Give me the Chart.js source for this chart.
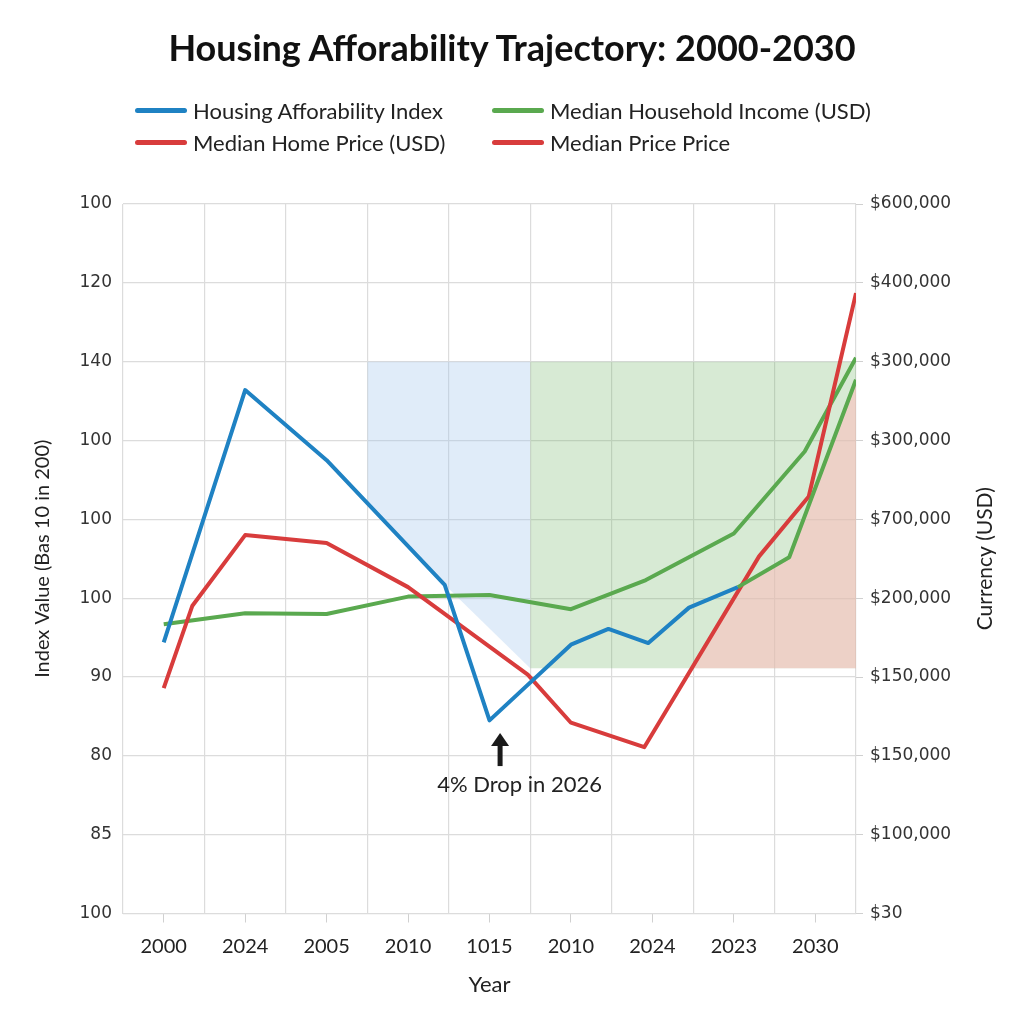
<!DOCTYPE html>
<html lang="en">
<head>
<meta charset="UTF-8" />
<title>Housing Afforability Trajectory: 2000-2030</title>
<script src="https://cdn.jsdelivr.net/npm/chart.js@4.4.3/dist/chart.umd.min.js"></script>
<style>
	body { margin: 0; background: #fff; }
	.wrap { position: relative; width: 1024px; height: 1024px; font-family: Lato, sans-serif; color: #111; }
	canvas { position: absolute; left: 0; top: 0; }
	h1 {
		position: absolute; top: 25px; left: 0; width: 1024px; margin: 0;
		text-align: center; font-size: 36px; line-height: 44px; font-weight: bold;
	}
	#legend {
		position: absolute; left: 135px; top: 94px;
		display: grid; grid-template-columns: 357px auto; grid-auto-rows: 32px;
	}
	.item { display: flex; align-items: center; font-size: 22px; color: #222; }
	.swatch { width: 52px; height: 5px; border-radius: 3px; margin-right: 6px; }
</style>
</head>
<body>
<div class="wrap">
	<canvas id="trajectory" width="1024" height="1024"></canvas>
	<h1>Housing Afforability Trajectory: 2000-2030</h1>
	<div id="legend"></div>
</div>

<script>
	// axis labels exactly as printed on the chart
	const yearLabels = ["2000", "2024", "2005", "2010", "1015", "2010", "2024", "2023", "2030"];
	const leftTickLabels = ["100", "120", "140", "100", "100", "100", "90", "80", "85", "100"]; // top -> bottom
	const rightTickLabels = ["$600,000", "$400,000", "$300,000", "$300,000", "$700,000",
		"$200,000", "$150,000", "$150,000", "$100,000", "$30"]; // top -> bottom

	// series, x in category slots (0 = first year), y in grid steps (0 = bottom line)
	const indexX = [0, 1, 2, 3.45, 4, 5, 5.46, 5.95, 6.45, 7.05, 7.68, 8.5];
	const indexY = [3.44, 6.64, 5.75, 4.17, 2.45, 3.41, 3.61, 3.43, 3.88, 4.14, 4.52, 6.77];

	const incomeX = [0, 1, 2, 3, 4, 5, 5.92, 7, 7.87, 8.5];
	const incomeY = [3.67, 3.81, 3.8, 4.02, 4.04, 3.86, 4.23, 4.82, 5.86, 7.05];

	const priceX = [0, 0.35, 1, 2, 3, 4.47, 5, 5.9, 7.31, 7.92, 8.5];
	const priceY = [2.86, 3.9, 4.8, 4.7, 4.14, 3.03, 2.42, 2.11, 4.53, 5.29, 7.87];

	// shaded bands
	const bandTop = 7;
	const bandFloor = 3.11;
	const blueBandX = [2.5, 4.5];
	const blueBaseX = [2.5, 3.45, 4.5];
	const blueBaseY = [5.2, 4.17, bandFloor];
	const greenBandX = [4.5, 8.5];
	const pinkBandX = [6.48, 7.05, 7.68, 8.5];
	const pinkBandY = [bandFloor, 4.14, 4.52, 6.77];

	const dropNote = { x: 4.13, tipY: 2.29, baseY: 1.87, textX: 4.37, textY: 1.63, text: "4% Drop in 2026" };

	const BLUE = "#1f82c3";
	const GREEN = "#5aa94f";
	const RED = "#d83c3c";

	const legendOrder = [
		"Housing Afforability Index",
		"Median Household Income (USD)",
		"Median Home Price (USD)",
		"Median Price Price",
	];

	const pts = (xs, ys) => xs.map((x, i) => ({ x: x, y: ys[i] }));
	const flat = (xs, v) => xs.map((x) => ({ x: x, y: v }));

	const extras = {
		id: "extras",
		afterDatasetsDraw(chart) {
			const { ctx, chartArea, scales } = chart;
			const x = scales.x, y = scales.y;
			const ax = x.getPixelForValue(dropNote.x);
			const tip = y.getPixelForValue(dropNote.tipY);
			const base = y.getPixelForValue(dropNote.baseY);
			ctx.save();
			ctx.fillStyle = "#1a1a1a";
			ctx.strokeStyle = "#1a1a1a";
			ctx.lineWidth = 5;
			ctx.beginPath();
			ctx.moveTo(ax, base);
			ctx.lineTo(ax, tip + 10);
			ctx.stroke();
			ctx.beginPath();
			ctx.moveTo(ax, tip);
			ctx.lineTo(ax - 9, tip + 13);
			ctx.lineTo(ax + 9, tip + 13);
			ctx.closePath();
			ctx.fill();

			ctx.fillStyle = "#222";
			ctx.font = "22px Lato";
			ctx.textAlign = "center";
			ctx.textBaseline = "middle";
			ctx.fillText(dropNote.text, x.getPixelForValue(dropNote.textX), y.getPixelForValue(dropNote.textY));

			// right axis title reads bottom to top, like the left one
			ctx.translate(scales.y2.right - 39, (chartArea.top + chartArea.bottom) / 2);
			ctx.rotate(-Math.PI / 2);
			ctx.font = "21px Lato";
			ctx.fillText("Currency (USD)", 0, 0);
			ctx.restore();
		},
	};

	Chart.defaults.font.family = "Lato";
	Chart.defaults.color = "#333";

	const chart = new Chart(document.getElementById("trajectory"), {
		type: "line",
		data: {
			datasets: [
				{
					label: "Housing Afforability Index",
					data: pts(indexX, indexY),
					borderColor: BLUE,
					backgroundColor: BLUE,
					segment: { borderColor: (c) => (c.p0.parsed.x >= 7 ? GREEN : undefined) },
					order: 0,
				},
				{
					label: "Median Home Price (USD)",
					data: pts(priceX, priceY),
					borderColor: RED,
					backgroundColor: RED,
					order: 1,
				},
				{
					label: "Median Household Income (USD)",
					data: pts(incomeX, incomeY),
					borderColor: GREEN,
					backgroundColor: GREEN,
					order: 2,
				},
				{
					label: "_blueBand",
					data: flat(blueBandX, bandTop),
					borderWidth: 0,
					backgroundColor: "rgba(160, 195, 235, 0.32)",
					fill: "+1",
					order: 5,
				},
				{
					label: "_blueBase",
					data: pts(blueBaseX, blueBaseY),
					borderWidth: 0,
					fill: false,
					order: 5,
				},
				{
					label: "_greenBand",
					data: flat(greenBandX, bandTop),
					borderWidth: 0,
					backgroundColor: "rgba(110, 180, 100, 0.28)",
					fill: { value: bandFloor },
					order: 5,
				},
				{
					label: "Median Price Price",
					data: pts(pinkBandX, pinkBandY),
					borderColor: RED,
					borderWidth: 0,
					backgroundColor: "rgba(255, 190, 190, 0.55)",
					fill: { value: bandFloor },
					order: 4,
				},
			],
		},
		options: {
			responsive: false,
			animation: false,
			layout: { padding: { top: 204 } },
			elements: {
				point: { radius: 0 },
				line: { borderWidth: 4, tension: 0, borderJoinStyle: "round" },
			},
			plugins: {
				legend: { display: false },
				tooltip: { enabled: false },
				title: { display: false },
			},
			scales: {
				x: {
					type: "linear",
					min: -0.5,
					max: yearLabels.length - 0.5,
					afterBuildTicks: (axis) => {
						axis.ticks = yearLabels.concat([""]).map((_, i) => ({ value: i - 0.5 }));
					},
					afterFit: (axis) => { axis.height = 0; },
					ticks: { display: false },
					grid: { color: "#dcdcdc", lineWidth: 1.2, drawTicks: false },
					border: { display: false },
				},
				xYears: {
					type: "linear",
					position: "bottom",
					min: -0.5,
					max: yearLabels.length - 0.5,
					afterBuildTicks: (axis) => {
						axis.ticks = yearLabels.map((_, i) => ({ value: i }));
					},
					afterFit: (axis) => { axis.height = 110.5; },
					ticks: {
						autoSkip: false,
						maxRotation: 0,
						padding: 12,
						font: { size: 20 },
						color: "#222",
						callback: (value) => yearLabels[value],
					},
					grid: { drawOnChartArea: false, color: "#d0d0d0", tickLength: 9 },
					border: { display: false },
					title: {
						display: true,
						text: "Year",
						font: { size: 22 },
						color: "#222",
						padding: { top: 0, bottom: 26 },
					},
				},
				y: {
					type: "linear",
					position: "left",
					min: 0,
					max: leftTickLabels.length - 1,
					afterFit: (axis) => { axis.width = 123; },
					ticks: {
						stepSize: 1,
						padding: 11,
						font: { family: "DejaVu Sans", size: 17 },
						color: "#333",
						callback: (value) => leftTickLabels[leftTickLabels.length - 1 - value],
					},
					grid: { color: "#dcdcdc", lineWidth: 1.2, drawTicks: false },
					border: { display: false },
					title: {
						display: true,
						text: "Index Value (Bas 10 in 200)",
						font: { size: 20 },
						color: "#222",
						padding: { top: 31, bottom: 0 },
					},
				},
				y2: {
					type: "linear",
					position: "right",
					min: 0,
					max: rightTickLabels.length - 1,
					afterFit: (axis) => { axis.width = 168; },
					ticks: {
						stepSize: 1,
						padding: 7,
						font: { family: "DejaVu Sans", size: 17 },
						color: "#333",
						callback: (value) => rightTickLabels[rightTickLabels.length - 1 - value],
					},
					grid: { drawOnChartArea: false, color: "#d0d0d0", tickLength: 7 },
					border: { display: false },
				},
			},
		},
		plugins: [extras],
	});

	// legend as a 2 x 2 grid, like the original
	const legend = document.getElementById("legend");
	legendOrder.forEach((name) => {
		const ds = chart.data.datasets.find((d) => d.label === name);
		const item = document.createElement("div");
		item.className = "item";
		item.innerHTML = '<span class="swatch" style="background:' + ds.borderColor + '"></span>' + name;
		legend.appendChild(item);
	});
</script>
</body>
</html>
